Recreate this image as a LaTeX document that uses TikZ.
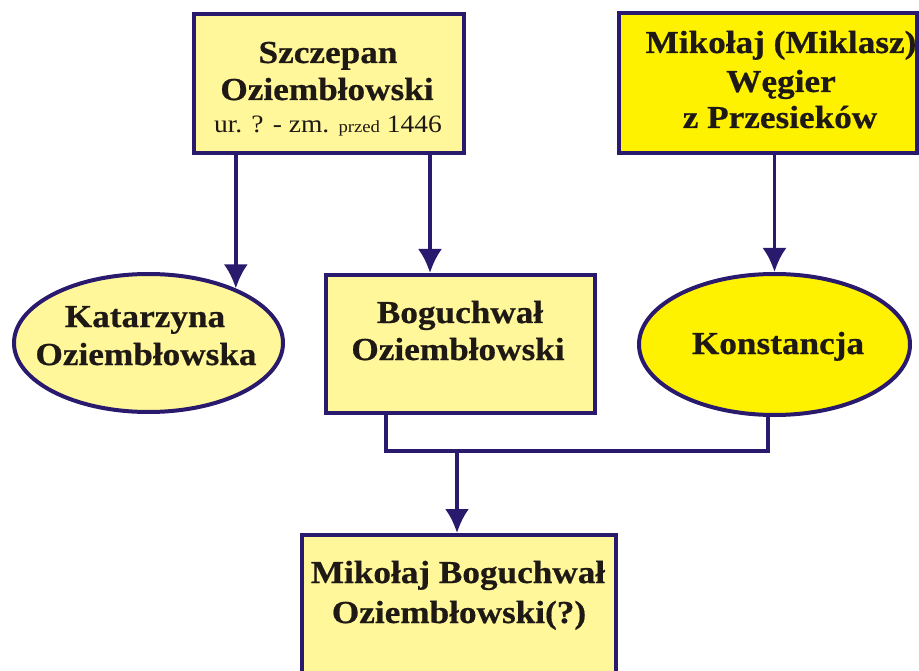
\documentclass[tikz,border=0pt]{standalone}
\usepackage{fontspec}
\setmainfont{Liberation Serif}[FakeStretch=1.1,BoldFeatures={FakeBold=0.6}]
\usetikzlibrary{arrows.meta,shapes.geometric}
\definecolor{pale}{HTML}{FFF799}
\definecolor{vivid}{HTML}{FFF200}
\definecolor{navy}{HTML}{2A1A6E}
\definecolor{ink}{HTML}{1E1914}
\begin{document}
\begin{tikzpicture}[x=1pt,y=-1pt,
  box/.style={draw=navy,line width=4pt,rectangle,inner sep=0pt},
  oval/.style={draw=navy,line width=4pt,ellipse,inner sep=0pt},
  big/.style={font=\fontsize{32}{37}\selectfont\bfseries,text=ink,inner sep=0pt,anchor=base},
  small/.style={font=\fontsize{25}{28}\selectfont,text=ink,inner sep=0pt,anchor=base},
  link/.style={draw=navy,line width=3.5pt},
  arr/.style={link,-{Latex[length=24pt,width=24pt]}}]
\clip (0,0) rectangle (919,671);
\fill[white] (0,0) rectangle (919,671);

% shapes
\node[box,fill=pale,minimum width=270pt,minimum height=139pt] (sz) at (329,83.5) {};
\node[box,fill=vivid,minimum width=298pt,minimum height=140pt] (mk) at (768,83) {};
\node[oval,fill=pale,minimum width=269pt,minimum height=138pt] (ka) at (148.5,343) {};
\node[box,fill=pale,minimum width=269pt,minimum height=138pt] (bg) at (460.5,344) {};
\node[oval,fill=vivid,minimum width=271pt,minimum height=141pt] (ko) at (774.5,344.5) {};
\node[box,fill=pale,minimum width=314pt,minimum height=180pt] (mb) at (459,625) {};

% texts
\node[big] (sz1) at (328,63) {Szczepan};
\node[big] (sz2) at (327,100) {Oziembłowski};
\node[small] (sz3) at (328,133) {ur. ? - zm. {\fontsize{17}{20}\selectfont przed} 1446};

\node[big] (mk1) at (781,53) {Mikołaj (Miklasz)};
\node[big] (mk2) at (781,92) {Węgier};
\node[big] (mk3) at (780,128) {z Przesieków};

\node[big] (ka1) at (145,327) {Katarzyna};
\node[big] (ka2) at (146,365) {Oziembłowska};

\node[big] (bg1) at (460,323) {Boguchwał};
\node[big] (bg2) at (458,360) {Oziembłowski};

\node[big] (ko1) at (778,354) {Konstancja};

\node[big] (mb1) at (458,583) {Mikołaj Boguchwał};
\node[big] (mb2) at (459,623) {Oziembłowski(?)};

% helper coordinates
\coordinate (xa) at (430,0);
\coordinate (xb) at (386,0);
\coordinate (xc) at (768,0);
\coordinate (j) at (457,451);

% connectors
\draw[arr] (ka.32.8 |- sz.south) -- (ka.32.8);
\draw[arr] (sz.south -| xa) -- (bg.north -| xa);
\draw[arr] (mk.south -| ko.north) -- (ko.north);
\draw[link] (bg.south -| xb) |- (j) -| (ko.south -| xc);
\draw[arr] (j) -- (mb.north -| j);
\end{tikzpicture}
\end{document}
